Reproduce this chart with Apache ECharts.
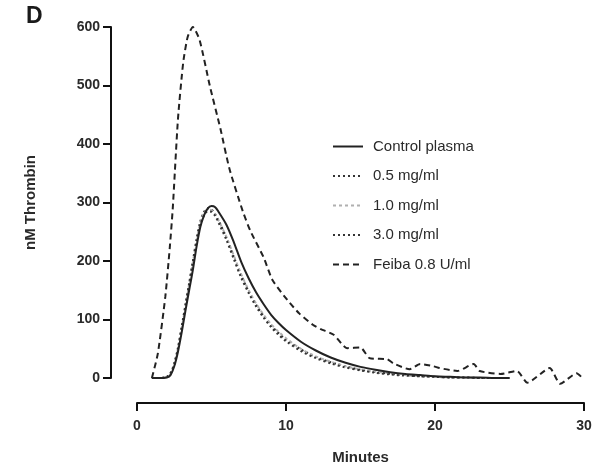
<!DOCTYPE html>
<html>
<head>
<meta charset="utf-8">
<script src="https://cdn.jsdelivr.net/npm/echarts@6/dist/echarts.min.js"></script>
<style>html,body{margin:0;padding:0;background:#fff;overflow:hidden}#c{width:601px;height:470px}</style>
</head>
<body>
<div id="c"></div>
<script>
var seriesNames = ['Control plasma', '0.5 mg/ml', '1.0 mg/ml', '3.0 mg/ml', 'Feiba 0.8 U/ml'];
var xTicks = [0, 10, 20, 30];
var yTicks = [0, 100, 200, 300, 400, 500, 600];

var tCurve = [1,1.5,2,2.25,2.5,2.75,3,3.25,3.5,3.75,4,4.25,4.5,4.75,5,5.25,5.5,6,6.5,7,7.5,8,8.5,9,9.5,10,11,12,13,14,15,16,17,18,19,20,21,22,23,24,25];
var control = [0,0,1,5,20,45,78,115,150,185,225,258,278,290,294,292,283,262,232,198,170,146,126,108,94,82,62,47,35,26,19,14,10,7,5,3,2,1,1,0,0];
var c05 = [0,0,2,8,25,52,88,125,162,200,238,268,284,290,288,280,268,240,207,175,148,125,106,90,77,66,49,36,27,20,14,10,7,5,3,2,1,1,0,0,0];
var c10 = [0,0,2,7,23,50,85,122,160,198,235,265,282,288,287,280,268,241,209,177,150,127,108,92,79,68,50,37,28,20,15,11,8,5,3,2,1,1,0,0,0];
var c30 = [0,0,2,8,24,50,86,123,160,197,233,262,278,285,284,277,264,236,203,171,145,122,103,87,74,63,46,34,25,18,13,9,6,4,3,2,1,1,0,0,0];

var tFeiba = [1.0,1.4,1.9,2.2,2.4,2.75,3.1,3.4,3.75,4.2,4.9,5.6,6.2,7.1,7.6,8.5,9.1,10.1,10.9,11.8,12.3,13.2,14.1,15.0,15.6,16.8,17.2,18.3,19.0,19.9,20.3,21.5,22.6,23.0,24.4,25.5,26.2,27.7,28.4,29.5,29.9];
var feiba = [0,42,139,223,290,443,539,583,600,578,498,426,358,285,252,206,167,133,110,91,84,74,51,52,34,32,25,15,24,20,17,12,24,12,7,12,-8,17,-10,8,0];

function pairs(t, v) { return t.map(function (x, i) { return [x, v[i]]; }); }

var FONT = 'Liberation Sans, Arial, sans-serif';
var dark = '#2a2a2a';

var chart = echarts.init(document.getElementById('c'), null, {renderer: 'canvas', width: 601, height: 470});
chart.setOption({
  animation: false,
  backgroundColor: '#fff',
  title: {
    text: 'D', left: 21, top: 0,
    textStyle: {fontFamily: FONT, fontSize: 23, fontWeight: 'bold', color: '#1a1a1a'}
  },
  grid: {left: 137, right: 17, top: 27, bottom: 88, containLabel: false},
  legend: {
    orient: 'vertical', left: 327, top: 133,
    itemWidth: 30, itemHeight: 14, itemGap: 12.5,
    data: seriesNames,
    itemStyle: {opacity: 0},
    textStyle: {fontFamily: FONT, fontSize: 15, color: dark, lineHeight: 17, padding: [0, 0, 0, 5]}
  },
  xAxis: {
    type: 'value', min: xTicks[0], max: xTicks[xTicks.length - 1], interval: 10,
    offset: 25,
    name: 'Minutes', nameLocation: 'middle', nameGap: 47,
    nameTextStyle: {fontFamily: FONT, fontSize: 15, fontWeight: 'bold', color: dark},
    axisLine: {onZero: false, lineStyle: {color: '#111', width: 2}},
    axisTick: {length: 8, lineStyle: {color: '#111', width: 2}},
    axisLabel: {fontFamily: FONT, fontSize: 14, fontWeight: 'bold', color: dark, margin: 16},
    splitLine: {show: false}
  },
  yAxis: {
    type: 'value', min: yTicks[0], max: yTicks[yTicks.length - 1], interval: 100,
    offset: 26,
    name: 'nM Thrombin', nameLocation: 'middle', nameGap: 73, nameRotate: 90,
    nameTextStyle: {fontFamily: FONT, fontSize: 15, fontWeight: 'bold', color: dark},
    axisLine: {show: true, onZero: false, lineStyle: {color: '#111', width: 2}},
    axisTick: {show: true, length: 8, lineStyle: {color: '#111', width: 2}},
    axisLabel: {fontFamily: FONT, fontSize: 14, fontWeight: 'bold', color: dark, margin: 11},
    splitLine: {show: false}
  },
  series: [
    {name: seriesNames[0], type: 'line', symbol: 'none', smooth: 0.3, data: pairs(tCurve, control),
     lineStyle: {color: '#222', width: 2, type: 'solid'}, itemStyle: {color: '#222'}, z: 5},
    {name: seriesNames[1], type: 'line', symbol: 'none', smooth: 0.3, data: pairs(tCurve, c05),
     lineStyle: {color: '#333', width: 2, type: [2, 3]}, itemStyle: {color: '#333'}},
    {name: seriesNames[2], type: 'line', symbol: 'none', smooth: 0.3, data: pairs(tCurve, c10),
     lineStyle: {color: '#b0b0b0', width: 2, type: [3, 3]}, itemStyle: {color: '#b0b0b0'}},
    {name: seriesNames[3], type: 'line', symbol: 'none', smooth: 0.3, data: pairs(tCurve, c30),
     lineStyle: {color: '#333', width: 2, type: [2, 3]}, itemStyle: {color: '#333'}},
    {name: seriesNames[4], type: 'line', symbol: 'none', smooth: 0.2, clip: false, data: pairs(tFeiba, feiba),
     lineStyle: {color: '#222', width: 2, type: [6, 4]}, itemStyle: {color: '#222'}}
  ]
});
</script>
</body>
</html>
